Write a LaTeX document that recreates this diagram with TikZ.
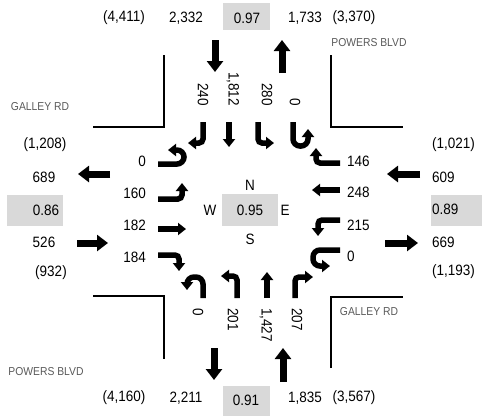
\documentclass[tikz,border=0pt]{standalone}
\usepackage{fontspec}
\setmainfont{Liberation Sans}
\newfontfamily\numfont[FakeStretch=0.9]{Liberation Sans}
\usetikzlibrary{arrows.meta}
\definecolor{boxgray}{HTML}{D9D9D9}
\definecolor{roadgray}{HTML}{595959}
\tikzset{
  num/.style={font=\numfont\fontsize{15}{17}\selectfont, inner sep=0pt},
  street/.style={font=\numfont\fontsize{11.5}{13}\selectfont, text=roadgray, inner sep=0pt},
  curb/.style={line width=1.8pt},
  move/.style={line width=5.5pt, rounded corners=4pt, -{Triangle[width=12pt,length=8pt]}},
  uturn/.style={move, rounded corners=7pt},
  flow/.style={line width=7pt, -{Triangle[width=16pt,length=11pt]}}
}
\begin{document}
\begin{tikzpicture}[x=1pt, y=-1pt]
	\useasboundingbox (0,0) rectangle (482,416);
	\draw[curb] (93,127) -- (164,127) -- (164,55);
	\draw[curb] (331,55) -- (331,127) -- (403,127);
	\draw[curb] (93,296) -- (164,296) -- (164,359);
	\draw[curb] (331,368) -- (331,297) -- (403,297);
	\node[street] (nStreetTL) at (40,107) {GALLEY RD};
	\node[street] (nStreetTR) at (369,43) {POWERS BLVD};
	\node[street] (nStreetBL) at (46,372) {POWERS BLVD};
	\node[street] (nStreetBR) at (369,312) {GALLEY RD};
	\fill[boxgray] (223,3) rectangle (270,30);
	\node[num] (nTotN) at (124,18) {(4,411)};
	\node[num] (nInN) at (186,18) {2,332};
	\node[num] (nPhfN) at (247,18) {0.97};
	\node[num] (nOutN) at (305,18) {1,733};
	\node[num] (nSumN) at (354,18) {(3,370)};
	\fill[boxgray] (223,386) rectangle (270,416);
	\node[num] (nTotS) at (124,398) {(4,160)};
	\node[num] (nOutS) at (186,398) {2,211};
	\node[num] (nPhfS) at (246,400) {0.91};
	\node[num] (nInS) at (305,398) {1,835};
	\node[num] (nSumS) at (354,398) {(3,567)};
	\fill[boxgray] (7,195) rectangle (63,226);
	\node[num] (nSumW) at (45,145) {(1,208)};
	\node[num] (nOutW) at (44,177) {689};
	\node[num] (nPhfW) at (46,210) {0.86};
	\node[num] (nInW) at (44,242) {526};
	\node[num] (nTotW) at (51,273) {(932)};
	\fill[boxgray] (431,195) rectangle (482,226);
	\node[num, anchor=west] (nTotE) at (432,145) {(1,021)};
	\node[num, anchor=west] (nInE) at (432,177) {609};
	\node[num, anchor=west] (nPhfE) at (432,209) {0.89};
	\node[num, anchor=west] (nOutE) at (432,242) {669};
	\node[num, anchor=west] (nSumE) at (432,272) {(1,193)};
	\draw[flow] (215,40) -- (215,72);
	\draw[flow] (282,73) -- (282,40);
	\draw[flow] (110,174) -- (78,174);
	\draw[flow] (77,243) -- (108,243);
	\draw[flow] (420,174) -- (387,174);
	\draw[flow] (385,243) -- (418,243);
	\draw[flow] (214,348) -- (214,380);
	\draw[flow] (283,382) -- (283,348);
	\node[num, rotate=-90, anchor=east] (nSbR) at (203,106) {240};
	\node[num, rotate=-90, anchor=east] (nSbT) at (233,106) {1,812};
	\node[num, rotate=-90, anchor=east] (nSbL) at (267,106) {280};
	\node[num, rotate=-90, anchor=east] (nSbU) at (295,106) {0};
	\draw[move] (203,122) -- (203,143) -- (188,143);
	\draw[move] (229,122) -- (229,147);
	\draw[move] (258,122) -- (258,143) -- (274,143);
	\draw[uturn] (293,122) -- (293,146) -- (308,146) -- (308,129);
	\node[num, anchor=west] (nWbR) at (347,161) {146};
	\node[num, anchor=west] (nWbT) at (347,192) {248};
	\node[num, anchor=west] (nWbL) at (347,225) {215};
	\node[num, anchor=west] (nWbU) at (347,256) {0};
	\draw[move] (340,163) -- (316,163) -- (316,148);
	\draw[move] (340,190) -- (312,190);
	\draw[move] (340,220) -- (318,220) -- (318,236);
	\draw[uturn] (340,250) -- (313,250) -- (313,266) -- (330,266);
	\node[num, rotate=-90, anchor=west] (nNbU) at (198,308) {0};
	\node[num, rotate=-90, anchor=west] (nNbL) at (233,308) {201};
	\node[num, rotate=-90, anchor=west] (nNbT) at (266,308) {1,427};
	\node[num, rotate=-90, anchor=west] (nNbR) at (297,308) {207};
	\draw[uturn] (203,298) -- (203,277) -- (187,277) -- (187,290);
	\draw[move] (237,298) -- (237,276) -- (221,276);
	\draw[move] (267,298) -- (267,272);
	\draw[move] (295,298) -- (295,277) -- (313,277);
	\node[num, anchor=east] (nEbU) at (146,161) {0};
	\node[num, anchor=east] (nEbL) at (146,193) {160};
	\node[num, anchor=east] (nEbT) at (146,225) {182};
	\node[num, anchor=east] (nEbR) at (146,257) {184};
	\draw[uturn] (158,164) -- (184,164) -- (184,150) -- (168,150);
	\draw[move] (158,199) -- (182,199) -- (182,183);
	\draw[move] (158,229) -- (186,229);
	\draw[move] (158,255) -- (179,255) -- (179,271);
	\fill[boxgray] (222,194) rectangle (278,226);
	\node[num] (nPhfAll) at (250,210) {0.95};
	\node[num] (nNorth) at (250,185) {N};
	\node[num] (nSouth) at (250,239) {S};
	\node[num] (nWest) at (210,210) {W};
	\node[num] (nEast) at (285,210) {E};
\end{tikzpicture}
\end{document}
